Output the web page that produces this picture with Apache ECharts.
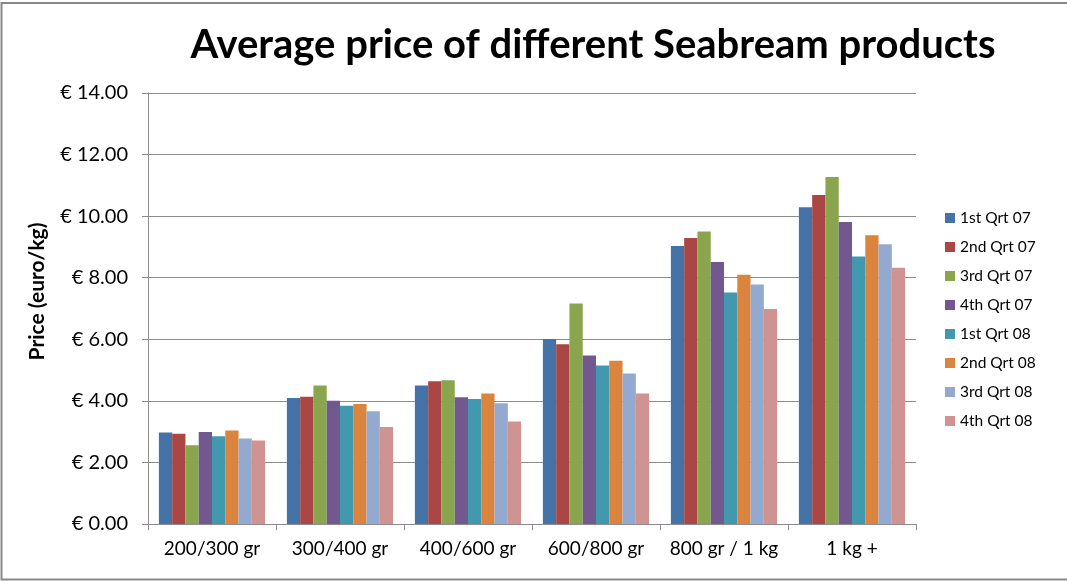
<!DOCTYPE html>
<html>
<head>
<meta charset="utf-8">
<title>Average price of different Seabream products</title>
<script src="https://cdn.jsdelivr.net/npm/echarts@6/dist/echarts.min.js"></script>
<style>
  html, body { margin: 0; padding: 0; background: #fff; }
  #main { width: 1067px; height: 581px; }
</style>
</head>
<body>
<div id="main"></div>
<script>
// categories (product sizes)
var categories = ['200/300 gr', '300/400 gr', '400/600 gr', '600/800 gr', '800 gr / 1 kg', '1 kg +'];

// quarters
var quarters = ['1st Qrt 07', '2nd Qrt 07', '3rd Qrt 07', '4th Qrt 07',
                '1st Qrt 08', '2nd Qrt 08', '3rd Qrt 08', '4th Qrt 08'];

// price per quarter, euro/kg
var q1_07 = [2.97, 4.09, 4.50, 6.01, 9.03, 10.29];
var q2_07 = [2.93, 4.13, 4.64, 5.84, 9.29, 10.69];
var q3_07 = [2.56, 4.50, 4.67, 7.16, 9.50, 11.27];
var q4_07 = [2.99, 4.00, 4.12, 5.47, 8.51, 9.81];
var q1_08 = [2.85, 3.84, 4.06, 5.15, 7.52, 8.69];
var q2_08 = [3.04, 3.90, 4.24, 5.30, 8.10, 9.38];
var q3_08 = [2.78, 3.66, 3.92, 4.89, 7.78, 9.09];
var q4_08 = [2.71, 3.15, 3.33, 4.24, 6.98, 8.32];

var values = [q1_07, q2_07, q3_07, q4_07, q1_08, q2_08, q3_08, q4_08];

var colors = ['#4572A7', '#AA4643', '#89A54E', '#71588F', '#4198AF', '#DB843D', '#93A9CF', '#D19392'];

var font = 'Lato, "Open Sans", sans-serif';
var gridColor = '#8c8c8c';

var myChart = echarts.init(document.getElementById('main'));

var series = [];
for (var i = 0; i < quarters.length; i++) {
    series.push({
        name: quarters[i],
        type: 'bar',
        data: values[i],
        barGap: '0%',
        barCategoryGap: '17%',
        itemStyle: { color: colors[i] }
    });
}

myChart.setOption({
    animation: false,
    color: colors,
    graphic: [
        {
            // frame: top, left and bottom edges only (right edge cut off in the original)
            type: 'polyline',
            shape: { points: [[1067, 3], [1.5, 3], [1.5, 579.5], [1067, 579.5]] },
            style: { fill: 'none', stroke: '#888', lineWidth: 2 },
            silent: true
        },
        {
            type: 'text',
            x: 593,
            y: 45,
            style: {
                text: 'Average price of different Seabream products',
                font: 'bold 40px ' + font,
                fill: '#000',
                align: 'center',
                verticalAlign: 'middle'
            }
        }
    ],
    grid: {
        left: 148,
        right: 151,
        top: 93,
        bottom: 57
    },
    legend: {
        orient: 'vertical',
        left: 940,
        top: 204,
        itemWidth: 10,
        itemHeight: 10,
        itemGap: 11,
        icon: 'rect',
        textStyle: {
            fontFamily: font,
            fontSize: 15.5,
            color: '#000',
            lineHeight: 18
        },
        data: quarters
    },
    xAxis: {
        type: 'category',
        data: categories,
        axisLine: { lineStyle: { color: gridColor, width: 1 } },
        axisTick: { show: true, length: 6, lineStyle: { color: gridColor } },
        axisLabel: {
            interval: 0,
            hideOverlap: false,
            margin: 15,
            fontFamily: font,
            fontSize: 19,
            color: '#000'
        }
    },
    yAxis: {
        type: 'value',
        min: 0,
        max: 14,
        interval: 2,
        name: 'Price (euro/kg)',
        nameLocation: 'middle',
        nameGap: 100,
        nameTextStyle: {
            fontFamily: font,
            fontSize: 21,
            fontWeight: 'bold',
            color: '#000',
            padding: [0, 0, 0, 34]
        },
        axisLine: { show: true, lineStyle: { color: gridColor, width: 1 } },
        axisTick: { show: true, length: 6, lineStyle: { color: gridColor } },
        splitLine: { lineStyle: { color: gridColor, width: 1 } },
        axisLabel: {
            margin: 20,
            fontFamily: font,
            fontSize: 20,
            color: '#000',
            formatter: function (v) {
                return '\u20ac ' + v.toFixed(2);
            }
        }
    },
    series: series
});
</script>
</body>
</html>
